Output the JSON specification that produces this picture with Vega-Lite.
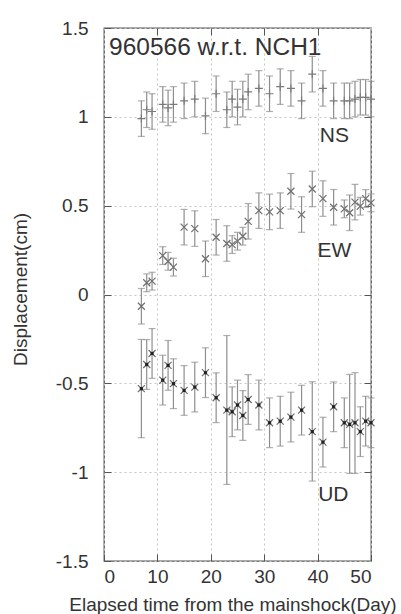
{
  "$schema": "https://vega.github.io/schema/vega-lite/v6.json",
  "width": 267,
  "height": 533,
  "autosize": {"type": "none"},
  "padding": {"left": 104, "top": 28, "right": 30, "bottom": 53},
  "background": "white",
  "config": {
    "view": {"stroke": "#555", "strokeWidth": 1.3},
    "font": "Liberation Sans",
    "axis": {"labelFont": "Liberation Sans", "titleFont": "Liberation Sans"}
  },
  "datasets": {
    "obs": [
      {"s": "NS", "d": 7, "v": 0.99, "lo": 0.89, "hi": 1.09},
      {"s": "NS", "d": 8, "v": 1.04, "lo": 0.94, "hi": 1.14},
      {"s": "NS", "d": 9, "v": 1.03, "lo": 0.93, "hi": 1.13},
      {"s": "NS", "d": 11, "v": 1.07, "lo": 0.97, "hi": 1.17},
      {"s": "NS", "d": 12, "v": 1.05, "lo": 0.95, "hi": 1.15},
      {"s": "NS", "d": 13, "v": 1.07, "lo": 0.97, "hi": 1.17},
      {"s": "NS", "d": 15, "v": 1.09, "lo": 0.99, "hi": 1.19},
      {"s": "NS", "d": 17, "v": 1.10, "lo": 1.00, "hi": 1.20},
      {"s": "NS", "d": 19, "v": 1.005, "lo": 0.905, "hi": 1.105},
      {"s": "NS", "d": 21, "v": 1.13, "lo": 1.03, "hi": 1.23},
      {"s": "NS", "d": 23, "v": 1.04, "lo": 0.94, "hi": 1.14},
      {"s": "NS", "d": 24, "v": 1.10, "lo": 1.00, "hi": 1.20},
      {"s": "NS", "d": 25, "v": 1.055, "lo": 0.955, "hi": 1.155},
      {"s": "NS", "d": 26, "v": 1.10, "lo": 1.00, "hi": 1.20},
      {"s": "NS", "d": 27, "v": 1.14, "lo": 1.04, "hi": 1.24},
      {"s": "NS", "d": 29, "v": 1.16, "lo": 1.06, "hi": 1.26},
      {"s": "NS", "d": 31, "v": 1.13, "lo": 1.03, "hi": 1.23},
      {"s": "NS", "d": 33, "v": 1.17, "lo": 1.07, "hi": 1.27},
      {"s": "NS", "d": 35, "v": 1.16, "lo": 1.06, "hi": 1.26},
      {"s": "NS", "d": 37, "v": 1.09, "lo": 0.99, "hi": 1.19},
      {"s": "NS", "d": 39, "v": 1.24, "lo": 1.14, "hi": 1.34},
      {"s": "NS", "d": 41, "v": 1.16, "lo": 1.06, "hi": 1.26},
      {"s": "NS", "d": 43, "v": 1.09, "lo": 0.99, "hi": 1.19},
      {"s": "NS", "d": 45, "v": 1.09, "lo": 0.99, "hi": 1.19},
      {"s": "NS", "d": 46, "v": 1.09, "lo": 0.99, "hi": 1.19},
      {"s": "NS", "d": 47, "v": 1.10, "lo": 1.00, "hi": 1.20},
      {"s": "NS", "d": 48, "v": 1.11, "lo": 1.01, "hi": 1.21},
      {"s": "NS", "d": 49, "v": 1.11, "lo": 1.01, "hi": 1.21},
      {"s": "NS", "d": 50, "v": 1.10, "lo": 1.00, "hi": 1.20},
      {"s": "EW", "d": 7, "v": -0.066, "lo": -0.166, "hi": 0.034},
      {"s": "EW", "d": 8, "v": 0.066, "lo": 0.016, "hi": 0.116},
      {"s": "EW", "d": 9, "v": 0.075, "lo": 0.025, "hi": 0.125},
      {"s": "EW", "d": 11, "v": 0.219, "lo": 0.169, "hi": 0.269},
      {"s": "EW", "d": 12, "v": 0.187, "lo": 0.137, "hi": 0.237},
      {"s": "EW", "d": 13, "v": 0.154, "lo": 0.104, "hi": 0.204},
      {"s": "EW", "d": 15, "v": 0.379, "lo": 0.279, "hi": 0.479},
      {"s": "EW", "d": 17, "v": 0.371, "lo": 0.271, "hi": 0.471},
      {"s": "EW", "d": 19, "v": 0.201, "lo": 0.101, "hi": 0.301},
      {"s": "EW", "d": 21, "v": 0.322, "lo": 0.222, "hi": 0.422},
      {"s": "EW", "d": 23, "v": 0.287, "lo": 0.187, "hi": 0.387},
      {"s": "EW", "d": 24, "v": 0.281, "lo": 0.231, "hi": 0.331},
      {"s": "EW", "d": 25, "v": 0.300, "lo": 0.250, "hi": 0.350},
      {"s": "EW", "d": 26, "v": 0.328, "lo": 0.278, "hi": 0.378},
      {"s": "EW", "d": 27, "v": 0.412, "lo": 0.312, "hi": 0.512},
      {"s": "EW", "d": 29, "v": 0.472, "lo": 0.372, "hi": 0.572},
      {"s": "EW", "d": 31, "v": 0.465, "lo": 0.365, "hi": 0.565},
      {"s": "EW", "d": 33, "v": 0.472, "lo": 0.372, "hi": 0.572},
      {"s": "EW", "d": 35, "v": 0.581, "lo": 0.481, "hi": 0.681},
      {"s": "EW", "d": 37, "v": 0.450, "lo": 0.350, "hi": 0.550},
      {"s": "EW", "d": 39, "v": 0.594, "lo": 0.494, "hi": 0.694},
      {"s": "EW", "d": 41, "v": 0.540, "lo": 0.440, "hi": 0.640},
      {"s": "EW", "d": 43, "v": 0.491, "lo": 0.391, "hi": 0.591},
      {"s": "EW", "d": 45, "v": 0.482, "lo": 0.432, "hi": 0.532},
      {"s": "EW", "d": 46, "v": 0.460, "lo": 0.360, "hi": 0.560},
      {"s": "EW", "d": 47, "v": 0.520, "lo": 0.420, "hi": 0.620},
      {"s": "EW", "d": 48, "v": 0.497, "lo": 0.447, "hi": 0.547},
      {"s": "EW", "d": 49, "v": 0.540, "lo": 0.490, "hi": 0.590},
      {"s": "EW", "d": 50, "v": 0.516, "lo": 0.466, "hi": 0.566},
      {"s": "UD", "d": 7, "v": -0.530, "lo": -0.806, "hi": -0.253},
      {"s": "UD", "d": 8, "v": -0.394, "lo": -0.534, "hi": -0.254},
      {"s": "UD", "d": 9, "v": -0.332, "lo": -0.472, "hi": -0.192},
      {"s": "UD", "d": 11, "v": -0.482, "lo": -0.622, "hi": -0.342},
      {"s": "UD", "d": 12, "v": -0.399, "lo": -0.539, "hi": -0.259},
      {"s": "UD", "d": 13, "v": -0.502, "lo": -0.642, "hi": -0.362},
      {"s": "UD", "d": 15, "v": -0.540, "lo": -0.680, "hi": -0.400},
      {"s": "UD", "d": 17, "v": -0.521, "lo": -0.661, "hi": -0.381},
      {"s": "UD", "d": 19, "v": -0.440, "lo": -0.580, "hi": -0.300},
      {"s": "UD", "d": 21, "v": -0.581, "lo": -0.721, "hi": -0.441},
      {"s": "UD", "d": 23, "v": -0.651, "lo": -1.069, "hi": -0.231},
      {"s": "UD", "d": 24, "v": -0.660, "lo": -0.800, "hi": -0.520},
      {"s": "UD", "d": 25, "v": -0.622, "lo": -0.762, "hi": -0.482},
      {"s": "UD", "d": 26, "v": -0.681, "lo": -0.821, "hi": -0.541},
      {"s": "UD", "d": 27, "v": -0.591, "lo": -0.731, "hi": -0.451},
      {"s": "UD", "d": 29, "v": -0.622, "lo": -0.762, "hi": -0.482},
      {"s": "UD", "d": 31, "v": -0.722, "lo": -0.862, "hi": -0.582},
      {"s": "UD", "d": 33, "v": -0.713, "lo": -0.853, "hi": -0.573},
      {"s": "UD", "d": 35, "v": -0.690, "lo": -0.830, "hi": -0.550},
      {"s": "UD", "d": 37, "v": -0.651, "lo": -0.791, "hi": -0.511},
      {"s": "UD", "d": 39, "v": -0.772, "lo": -1.050, "hi": -0.491},
      {"s": "UD", "d": 41, "v": -0.831, "lo": -0.971, "hi": -0.691},
      {"s": "UD", "d": 43, "v": -0.632, "lo": -0.772, "hi": -0.492},
      {"s": "UD", "d": 45, "v": -0.722, "lo": -0.862, "hi": -0.582},
      {"s": "UD", "d": 46, "v": -0.731, "lo": -1.007, "hi": -0.450},
      {"s": "UD", "d": 47, "v": -0.722, "lo": -1.007, "hi": -0.440},
      {"s": "UD", "d": 48, "v": -0.772, "lo": -0.912, "hi": -0.632},
      {"s": "UD", "d": 49, "v": -0.713, "lo": -0.853, "hi": -0.573},
      {"s": "UD", "d": 50, "v": -0.722, "lo": -0.862, "hi": -0.582}
    ],
    "notes": [
      {"t": "960566 w.r.t. NCH1", "d": 0.94, "v": 1.35, "k": "title"},
      {"t": "NS", "d": 40.4, "v": 0.86, "k": "lab"},
      {"t": "EW", "d": 40.0, "v": 0.212, "k": "lab"},
      {"t": "UD", "d": 40.1, "v": -1.163, "k": "lab"}
    ]
  },
  "resolve": {"axis": {"x": "independent", "y": "independent"}},
  "layer": [
    {
      "data": {"name": "obs"},
      "mark": {"type": "rule", "color": "#8e8e8e", "strokeWidth": 1.2},
      "encoding": {
        "x": {
          "field": "d", "type": "quantitative",
          "scale": {"domain": [0, 50], "nice": false, "zero": false},
          "axis": {
            "orient": "bottom",
            "title": "Elapsed time from the mainshock(Day)",
            "titleFontSize": 19, "titleFontWeight": "normal", "titleColor": "#333",
            "titleX": 128.5, "titleY": 49, "titleBaseline": "alphabetic", "titleAlign": "center",
            "values": [0, 10, 20, 30, 40, 50],
            "labelExpr": "'' + datum.value",
            "labelFontSize": 19, "labelColor": "#333", "labelPadding": 13,
            "tickSize": -7, "tickColor": "#555", "tickWidth": 1,
            "domain": false,
            "grid": true, "gridColor": "#c4c4c4", "gridDash": [2, 3], "gridWidth": 1
          }
        },
        "y": {
          "field": "lo", "type": "quantitative",
          "scale": {"domain": [-1.5, 1.5], "nice": false, "zero": false},
          "axis": {
            "orient": "left",
            "title": "Displacement(cm)",
            "titleFontSize": 19, "titleFontWeight": "normal", "titleColor": "#333",
            "titleX": -83.5, "titleY": 261, "titleAngle": -90, "titleBaseline": "middle", "titleAlign": "center",
            "values": [-1.5, -1, -0.5, 0, 0.5, 1, 1.5],
            "labelExpr": "'' + datum.value",
            "labelFontSize": 19, "labelColor": "#333", "labelPadding": 23,
            "tickSize": -7, "tickColor": "#555", "tickWidth": 1,
            "domain": false,
            "grid": true, "gridColor": "#c4c4c4", "gridDash": [2, 3], "gridWidth": 1
          }
        },
        "y2": {"field": "hi"}
      }
    },
    {
      "data": {"name": "obs"},
      "mark": {"type": "tick", "orient": "horizontal", "color": "#8e8e8e", "size": 7, "thickness": 1.2},
      "encoding": {
        "x": {
          "field": "d", "type": "quantitative",
          "axis": {"orient": "top", "title": null, "labels": false, "values": [10, 20, 30, 40],
                   "tickSize": -7, "tickColor": "#555", "domain": false, "grid": false}
        },
        "y": {
          "field": "lo", "type": "quantitative",
          "axis": {"orient": "right", "title": null, "labels": false, "values": [-1, -0.5, 0, 0.5, 1],
                   "tickSize": -7, "tickColor": "#555", "domain": false, "grid": false}
        }
      }
    },
    {
      "data": {"name": "obs"},
      "mark": {"type": "tick", "orient": "horizontal", "color": "#8e8e8e", "size": 7, "thickness": 1.2},
      "encoding": {
        "x": {"field": "d", "type": "quantitative", "axis": null},
        "y": {"field": "hi", "type": "quantitative", "axis": null}
      }
    },
    {
      "data": {"name": "obs"},
      "transform": [{"filter": "datum.s === 'NS'"}],
      "mark": {"type": "point", "shape": "M-1,0H1M0,-1V1", "filled": false, "color": "#7a7a7a", "size": 64, "strokeWidth": 1.2, "opacity": 1},
      "encoding": {
        "x": {"field": "d", "type": "quantitative", "axis": null},
        "y": {"field": "v", "type": "quantitative", "axis": null}
      }
    },
    {
      "data": {"name": "obs"},
      "transform": [{"filter": "datum.s !== 'NS'"}],
      "mark": {"type": "point", "shape": "M-1,-1L1,1M-1,1L1,-1", "filled": false, "color": "#6e6e6e", "size": 49, "strokeWidth": 1.2, "opacity": 1},
      "encoding": {
        "x": {"field": "d", "type": "quantitative", "axis": null},
        "y": {"field": "v", "type": "quantitative", "axis": null}
      }
    },
    {
      "data": {"name": "obs"},
      "transform": [{"filter": "datum.s === 'UD'"}],
      "mark": {"type": "point", "shape": "square", "filled": true, "color": "#222", "size": 10, "opacity": 1},
      "encoding": {
        "x": {"field": "d", "type": "quantitative", "axis": null},
        "y": {"field": "v", "type": "quantitative", "axis": null}
      }
    },
    {
      "data": {"name": "notes"},
      "mark": {"type": "text", "align": "left", "baseline": "alphabetic", "color": "#333", "font": "Liberation Sans"},
      "encoding": {
        "x": {"field": "d", "type": "quantitative", "axis": null},
        "y": {"field": "v", "type": "quantitative", "axis": null},
        "text": {"field": "t"},
        "size": {"field": "k", "type": "nominal", "scale": {"domain": ["title", "lab"], "range": [24.5, 21]}, "legend": null}
      }
    }
  ]
}
